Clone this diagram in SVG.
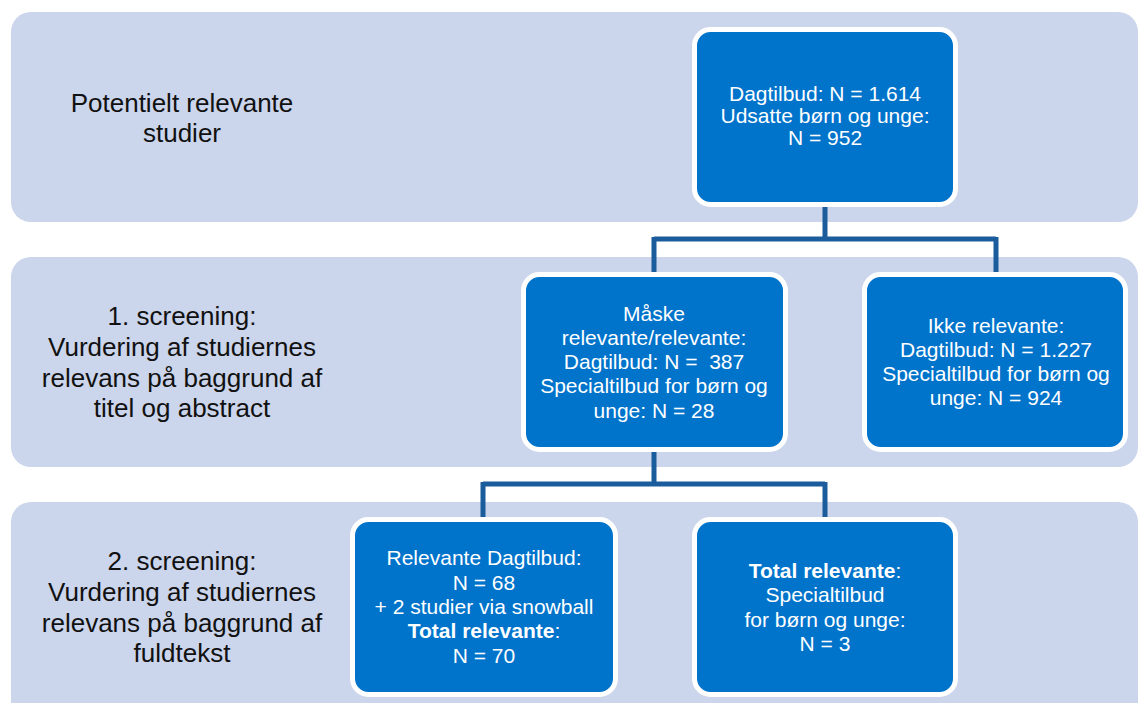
<svg xmlns="http://www.w3.org/2000/svg" width="1138" height="703" viewBox="0 0 1138 703">
<style>
.band{fill:#CBD5EB;}
.box{fill:#0073CB;stroke:#FFFFFF;stroke-width:5;}
.conn{fill:none;stroke:#1A5C9C;stroke-width:5;stroke-linejoin:miter;}
.lbl{font-family:"Liberation Sans",Arial,sans-serif;font-size:26px;fill:#111111;text-anchor:middle;}
.nt{font-family:"Liberation Sans",Arial,sans-serif;font-size:21px;fill:#FFFFFF;text-anchor:middle;}
.b{font-weight:bold;}
</style>
<rect width="1138" height="703" fill="#FFFFFF"/>
<g id="bands">
<rect class="band" x="11" y="12" width="1127" height="210" rx="20"/>
<rect class="band" x="11" y="257" width="1127" height="210" rx="20"/>
<rect class="band" x="11" y="502" width="1127" height="240" rx="20"/>
</g>
<g id="labels">
<text class="lbl" x="182" y="112">Potentielt relevante</text>
<text class="lbl" x="182" y="142">studier</text>
<text class="lbl" x="182" y="325">1. screening:</text>
<text class="lbl" x="182" y="356">Vurdering af studiernes</text>
<text class="lbl" x="182" y="387">relevans på baggrund af</text>
<text class="lbl" x="182" y="417">titel og abstract</text>
<text class="lbl" x="182" y="570">2. screening:</text>
<text class="lbl" x="182" y="601">Vurdering af studiernes</text>
<text class="lbl" x="182" y="632">relevans på baggrund af</text>
<text class="lbl" x="182" y="662">fuldtekst</text>
</g>
<g id="connectors">
<path class="conn" d="M825,205 V239 M654,239 H996 M654,237 V274 M996,237 V274"/>
<path class="conn" d="M654,450 V484 M483,484 H825 M483,482 V519 M825,482 V519"/>
</g>
<g id="node-potentielt">
<rect class="box" x="694.5" y="29.5" width="261" height="175" rx="16"/>
<text class="nt" x="825" y="101">Dagtilbud: N = 1.614</text>
<text class="nt" x="825" y="123">Udsatte børn og unge:</text>
<text class="nt" x="825" y="145">N = 952</text>
</g>
<g id="node-maaske">
<rect class="box" x="523.5" y="274.5" width="262" height="175" rx="16"/>
<text class="nt" x="654" y="321">Måske</text>
<text class="nt" x="654" y="345">relevante/relevante:</text>
<text class="nt" x="654" y="369" xml:space="preserve">Dagtilbud: N =  387</text>
<text class="nt" x="654" y="393">Specialtilbud for børn og</text>
<text class="nt" x="654" y="418">unge: N = 28</text>
</g>
<g id="node-ikke">
<rect class="box" x="864.5" y="274.5" width="261" height="175" rx="16"/>
<text class="nt" x="996" y="333">Ikke relevante:</text>
<text class="nt" x="996" y="357">Dagtilbud: N = 1.227</text>
<text class="nt" x="996" y="381">Specialtilbud for børn og</text>
<text class="nt" x="996" y="405">unge: N = 924</text>
</g>
<g id="node-dagtilbud">
<rect class="box" x="352.5" y="519.5" width="263" height="175" rx="16"/>
<text class="nt" x="484" y="565">Relevante Dagtilbud:</text>
<text class="nt" x="484" y="590">N = 68</text>
<text class="nt" x="484" y="614">+ 2 studier via snowball</text>
<text class="nt" x="484" y="638"><tspan class="b">Total relevante</tspan>:</text>
<text class="nt" x="484" y="663">N = 70</text>
</g>
<g id="node-special">
<rect class="box" x="694.5" y="519.5" width="261" height="175" rx="16"/>
<text class="nt" x="825" y="578"><tspan class="b">Total relevante</tspan>:</text>
<text class="nt" x="825" y="602">Specialtilbud</text>
<text class="nt" x="825" y="627">for børn og unge:</text>
<text class="nt" x="825" y="651">N = 3</text>
</g>
</svg>
